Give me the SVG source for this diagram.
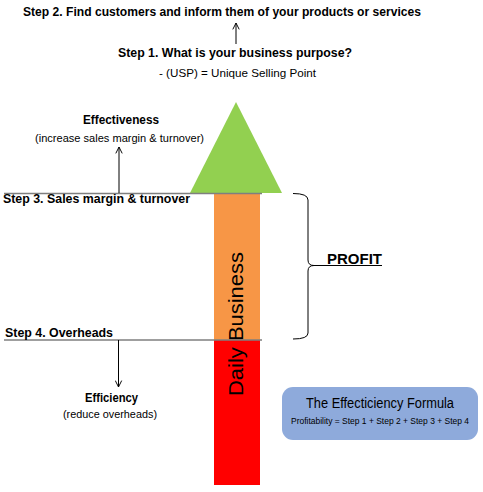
<svg xmlns="http://www.w3.org/2000/svg" width="483" height="492" viewBox="0 0 483 492">
<style>
text{font-family:"Liberation Sans",Arial,sans-serif;fill:#000}
.b{font-weight:bold}
.conn{stroke:#000;stroke-width:1;fill:none}
.lvl{stroke:#7f7f7f;stroke-width:1.5}
</style>
<defs>
<marker id="ah" viewBox="0 0 10 10" refX="9" refY="5" markerWidth="8" markerHeight="8" markerUnits="userSpaceOnUse" orient="auto">
<polyline points="1,1 9,5 1,9" fill="none" stroke="#000" stroke-width="1.2"/>
</marker>
</defs>
<rect width="483" height="492" fill="#fff"/>
<g id="shaft">
<rect x="214" y="193" width="46" height="147" fill="#f79646"/>
<rect x="214" y="340" width="46" height="145" fill="#ff0000"/>
<text font-size="20" transform="translate(243,324) rotate(-90)" text-anchor="middle" textLength="144" lengthAdjust="spacingAndGlyphs">Daily Business</text>
</g>
<g id="arrowhead">
<polygon points="236,102 190,193 282,193" fill="#92d050"/>
</g>
<g id="step2"><text class="b" x="23" y="16" font-size="13" textLength="398" lengthAdjust="spacingAndGlyphs">Step 2. Find customers and inform them of your products or services</text></g>
<g id="step1">
<text class="b" x="118" y="57" font-size="12.5" textLength="234" lengthAdjust="spacingAndGlyphs">Step 1. What is your business purpose?</text>
<text x="159" y="77" font-size="10.5" textLength="157" lengthAdjust="spacingAndGlyphs">- (USP) = Unique Selling Point</text>
</g>
<g id="effectiveness">
<text class="b" x="83" y="124" font-size="12" textLength="76" lengthAdjust="spacingAndGlyphs">Effectiveness</text>
<text x="35" y="142" font-size="10.5" textLength="169" lengthAdjust="spacingAndGlyphs">(increase sales margin &amp; turnover)</text>
</g>
<g id="step3">
<line class="lvl" x1="4" y1="193.5" x2="262" y2="193.5"/>
<text class="b" x="3" y="203" font-size="12.5" textLength="187" lengthAdjust="spacingAndGlyphs">Step 3. Sales margin &amp; turnover</text>
</g>
<g id="step4">
<line class="lvl" x1="4" y1="340" x2="262" y2="340"/>
<text class="b" x="5" y="337" font-size="12.5" textLength="108" lengthAdjust="spacingAndGlyphs">Step 4. Overheads</text>
</g>
<g id="efficiency">
<text class="b" x="85" y="402" font-size="12" textLength="53" lengthAdjust="spacingAndGlyphs">Efficiency</text>
<text x="63" y="418" font-size="10.5" textLength="94" lengthAdjust="spacingAndGlyphs">(reduce overheads)</text>
</g>
<g id="profit">
<path class="conn" d="M293,193.5 Q308,193.5 308,200 L308,260 Q308,265.5 314,265.5 Q308,265.5 308,271 L308,333 Q308,339 293,339"/>
<line class="conn" x1="314" y1="265.5" x2="382" y2="265.5"/>
<text class="b" x="327" y="264" font-size="15" textLength="55" lengthAdjust="spacingAndGlyphs">PROFIT</text>
</g>
<g id="formula">
<rect x="282" y="387" width="196" height="53" rx="11" fill="#8eaadb"/>
<text x="380" y="408" font-size="14" text-anchor="middle" textLength="148" lengthAdjust="spacingAndGlyphs">The Effecticiency Formula</text>
<text x="380" y="424" font-size="9" text-anchor="middle" textLength="178" lengthAdjust="spacingAndGlyphs">Profitability = Step 1 + Step 2 + Step 3 + Step 4</text>
</g>
<g id="connectors">
<line class="conn" x1="236" y1="44" x2="236" y2="23" marker-end="url(#ah)"/>
<line class="conn" x1="119" y1="193" x2="119" y2="147" marker-end="url(#ah)"/>
<line class="conn" x1="118.5" y1="340" x2="118.5" y2="387" marker-end="url(#ah)"/>
</g>
</svg>
